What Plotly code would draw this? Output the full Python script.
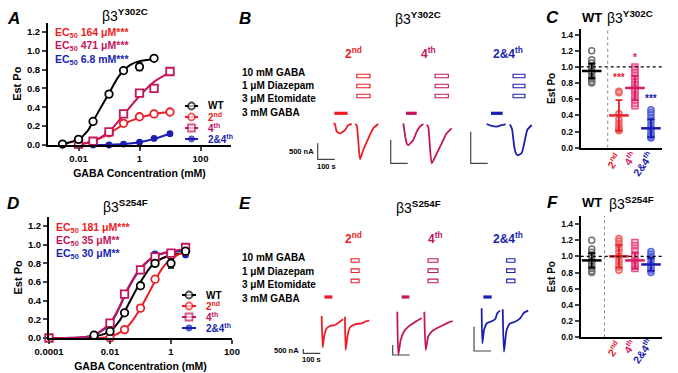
import plotly.graph_objects as go

# ======================= DATA =======================
# Panel A (beta3 Y302C): GABA concentration (mM) vs Est Po
A_wt_conc = [0.003, 0.01, 0.03, 0.1, 0.3, 1, 3]
A_wt_po = [0.01, 0.06, 0.25, 0.54, 0.79, 0.83, 0.92]
A_wt_err = [0, 0, 0, 0, 0, 0.04, 0]
A_2nd_conc = [0.01, 0.03, 0.1, 0.3, 1, 3, 10]
A_2nd_po = [0.01, 0.03, 0.13, 0.23, 0.30, 0.33, 0.35]
A_4th_conc = [0.01, 0.03, 0.1, 0.3, 1, 3, 10]
A_4th_po = [0.01, 0.04, 0.14, 0.33, 0.55, 0.60, 0.78]
A_24_conc = [0.03, 0.1, 0.3, 1, 3, 10]
A_24_po = [0.0, 0.0, 0.01, 0.03, 0.07, 0.12]
# fitted curves
A_wt_fit_conc = [0.003, 0.01, 0.02, 0.03, 0.05, 0.1, 0.2, 0.3, 0.5, 1, 3]
A_wt_fit_po = [0.01, 0.06, 0.15, 0.25, 0.38, 0.55, 0.72, 0.79, 0.85, 0.89, 0.91]
A_2nd_fit_conc = [0.01, 0.03, 0.1, 0.3, 1, 3, 10]
A_2nd_fit_po = [0.005, 0.04, 0.12, 0.22, 0.29, 0.33, 0.35]
A_4th_fit_conc = [0.01, 0.03, 0.1, 0.3, 1, 3, 10]
A_4th_fit_po = [0.005, 0.04, 0.14, 0.32, 0.52, 0.67, 0.77]
A_24_fit_conc = [0.03, 0.1, 0.3, 1, 3, 10]
A_24_fit_po = [0.0, 0.003, 0.01, 0.03, 0.065, 0.12]
A_ec50 = ["164 μM***", "471 μM***", "6.8 mM***"]

# Panel D (beta3 S254F)
D_wt_conc = [0.003, 0.01, 0.03, 0.1, 0.3, 1, 3]
D_wt_po = [0.03, 0.07, 0.27, 0.56, 0.80, 0.80, 0.93]
D_wt_err = [0, 0, 0, 0, 0, 0.05, 0]
D_2nd_conc = [0.01, 0.03, 0.1, 0.3, 1, 3]
D_2nd_po = [0.0, 0.09, 0.32, 0.63, 0.88, 0.93]
D_4th_conc = [0.0001, 0.01, 0.03, 0.1, 0.3, 1, 3]
D_4th_po = [0.0, 0.16, 0.47, 0.73, 0.87, 0.91, 0.97]
D_24_conc = [0.0001, 0.01, 0.03, 0.1, 0.3, 1, 3]
D_24_po = [0.0, 0.15, 0.46, 0.72, 0.90, 0.90, 0.89]
D_wt_fit_conc = [0.001, 0.003, 0.01, 0.02, 0.03, 0.05, 0.1, 0.2, 0.3, 1, 3]
D_wt_fit_po = [0.0, 0.015, 0.07, 0.18, 0.28, 0.42, 0.60, 0.75, 0.81, 0.89, 0.91]
D_2nd_fit_conc = [0.003, 0.01, 0.03, 0.05, 0.1, 0.2, 0.3, 0.5, 1, 3]
D_2nd_fit_po = [0.0, 0.015, 0.09, 0.17, 0.32, 0.50, 0.61, 0.74, 0.85, 0.93]
D_4th_fit_conc = [0.0001, 0.001, 0.003, 0.01, 0.02, 0.03, 0.05, 0.1, 0.3, 1, 3]
D_4th_fit_po = [0.0, 0.005, 0.03, 0.16, 0.33, 0.46, 0.60, 0.75, 0.88, 0.93, 0.95]
D_24_fit_conc = [0.0001, 0.001, 0.003, 0.01, 0.02, 0.03, 0.05, 0.1, 0.3, 1, 3]
D_24_fit_po = [0.0, 0.005, 0.03, 0.15, 0.32, 0.45, 0.59, 0.74, 0.88, 0.92, 0.94]
D_ec50 = ["181 μM***", "35 μM**", "30 μM**"]

# Panels B / E: current traces, time (s) and current (nA), two sweeps per cell
B2_t1 = [92, 101, 112, 131, 161, 180, 200]
B2_i1 = [0, -20, -262, -312, -209, -53, -22]
B2_t2 = [219, 229, 249, 268, 298, 327, 356]
B2_i2 = [-22, -53, -1125, -834, -469, -156, -22]
B4_t1 = [74, 94, 104, 133, 153, 172, 192]
B4_i1 = [0, -429, -466, -358, -180, -73, -15]
B4_t2 = [212, 221, 241, 271, 300, 329, 359]
B4_i2 = [-36, -79, -858, -644, -429, -215, -107]
B24_t1 = [94, 124, 153, 182, 206]
B24_i1 = [0, -31, -42, -16, -5]
B24_t2 = [231, 243, 256, 265, 276, 300, 315, 333, 359]
B24_i2 = [-5, -78, -355, -458, -495, -458, -302, -94, -16]
E2_t1 = [108, 114, 124, 138, 157, 186, 206, 222, 235]
E2_i1 = [0, -3640, -2209, -1430, -1163, -1047, -779, -547, -384]
E2_t2 = [245, 249, 261, 275, 304, 344, 373, 388]
E2_i2 = [-81, -3953, -2209, -1314, -965, -849, -581, -547]
E4_t1 = [27, 33, 47, 66, 92, 121, 151, 171]
E4_i1 = [0, -2165, -1415, -1000, -750, -580, -415, -330]
E4_t2 = [186, 194, 209, 229, 259, 298, 327, 353]
E4_i2 = [0, -1915, -1250, -1000, -830, -665, -550, -465]
E24_t1 = [45, 49, 59, 75, 98, 124, 137, 153]
E24_i1 = [0, -720, -447, -309, -276, -226, -103, -49]
E24_t2 = [169, 176, 192, 212, 241, 271, 294, 319]
E24_i2 = [-21, -893, -447, -309, -276, -206, -91, -49]
# drug application windows (s): 3 mM GABA bar and combined application boxes
gaba_on = [98, 90, 119, 124, 53, 55]
gaba_off = [176, 153, 188, 171, 98, 104]
combo_on = [230, 261, 249, 281, 208, 192]
combo_off = [308, 339, 319, 328, 266, 241]
scale_bottom_nA = [-1125, -858, -622, -4337, -2165, -879]
SCALE_NA = 500
SCALE_S = 100
stim_labels = ["10 mM GABA", "1 μM Diazepam", "3 μM Etomidate", "3 mM GABA"]

# Panels C / F: individual Est Po values, mean and SD
groups = ["WT", "2<sup>nd</sup>", "4<sup>th</sup>", "2&4<sup>th</sup>"]
C_wt = [1.20, 1.09, 1.05, 1.00, 0.95, 0.92, 0.88, 0.85, 0.82, 0.80]
C_2nd = [0.70, 0.68, 0.42, 0.35, 0.30, 0.26, 0.23, 0.21]
C_4th = [1.00, 0.97, 0.93, 0.89, 0.85, 0.81, 0.77, 0.73, 0.69, 0.64, 0.59, 0.55, 0.52]
C_24 = [0.47, 0.44, 0.41, 0.37, 0.33, 0.28, 0.24, 0.20, 0.17, 0.15, 0.13, 0.12]
C_mean = [0.95, 0.40, 0.74, 0.24]
C_sd = [0.09, 0.19, 0.15, 0.11]
C_stars = ["", "***", "*", "***"]
C_star_y = [None, 0.87, 1.12, 0.61]
F_wt = [1.20, 1.09, 1.05, 1.00, 0.95, 0.92, 0.88, 0.85, 0.82, 0.80]
F_2nd = [1.22, 1.19, 1.15, 1.10, 1.05, 1.00, 0.95, 0.91, 0.87, 0.83]
F_4th = [1.17, 1.13, 1.07, 1.00, 0.95, 0.91, 0.88, 0.85]
F_24 = [1.06, 1.03, 1.00, 0.97, 0.93, 0.89, 0.86, 0.83, 0.80]
F_mean = [0.95, 1.00, 0.95, 0.90]
F_sd = [0.09, 0.14, 0.10, 0.08]

# ======================= STYLE / LAYOUT =======================
W, H = 678, 373
FONT = "Liberation Sans, Arial, Helvetica, sans-serif"
RED = "#EE1C25"
MAG = "#C4145C"
BLUE = "#1B1FB0"
SER_COL = ["#000000", RED, MAG, BLUE]
PT_LINE = ["#6E6E6E", "#F26464", "#EE4F8A", "#5566DD"]
PT_FILL = ["rgba(0,0,0,0)", "rgba(242,100,100,0.30)", "rgba(238,79,138,0.25)", "rgba(85,102,221,0.25)"]
MEAN_COL = ["#000000", "#E8202A", "#D81B60", "#1A1AB0"]
TRACE_COL = [RED, MAG, BLUE]


def xdom(a, b):
    return [a / W, b / W]


def ydom(top, bottom):
    return [1 - bottom / H, 1 - top / H]


annotations = []
shapes = []


def ann(text, x, y, size, color="black", xanchor="center", yanchor="middle",
        angle=0, bold=True, italic=False):
    t = text
    if bold:
        t = "<b>" + t + "</b>"
    if italic:
        t = "<i>" + t + "</i>"
    annotations.append(dict(text=t, x=x / W, y=1 - y / H, xref="paper", yref="paper",
                            showarrow=False, xanchor=xanchor, yanchor=yanchor,
                            textangle=angle, font=dict(family=FONT, size=size, color=color)))


fig = go.Figure()
lay = dict(width=W, height=H, margin=dict(l=0, r=0, t=0, b=0, autoexpand=False),
           paper_bgcolor="white", plot_bgcolor="rgba(0,0,0,0)", showlegend=False,
           font=dict(family=FONT, color="black", size=10))

TICKF = dict(family=FONT, size=9.5, color="black", weight="bold")


def yaxis_po(dom, anchor, rng, tv, fsize, tsize, standoff):
    return dict(domain=dom, anchor=anchor, range=rng, tickvals=tv,
                ticktext=["%.1f" % v for v in tv], showline=True, linewidth=2,
                linecolor="black", ticks="outside", ticklen=4, tickwidth=2,
                showgrid=False, zeroline=False,
                tickfont=dict(family=FONT, size=fsize, color="black", weight="bold"),
                title=dict(text="<b>Est Po</b>", font=dict(family=FONT, size=tsize), standoff=standoff))


def xaxis_conc(dom, anchor, rng, tv):
    return dict(domain=dom, anchor=anchor, type="log", range=rng, tickvals=tv,
                ticktext=[("%g" % v) if v >= 0.001 else "0.0001" for v in tv],
                showline=True, linewidth=2, linecolor="black", ticks="outside",
                ticklen=4, tickwidth=2, showgrid=False, zeroline=False, tickfont=TICKF,
                title=dict(text="<b>GABA Concentration (mM)</b>",
                           font=dict(family=FONT, size=10.5), standoff=6))


po_ticks = [0, 0.2, 0.4, 0.6, 0.8, 1.0, 1.2]
lay["xaxis"] = xaxis_conc(xdom(48, 231), "y", [-3, 3], [0.01, 1, 100])
lay["yaxis"] = yaxis_po(ydom(22.5, 145), "x", [0, 1.3], po_ticks, 9.5, 11, 3)
lay["xaxis2"] = xaxis_conc(xdom(49, 232), "y2", [-4, 2], [0.0001, 0.01, 1, 100])
lay["yaxis2"] = yaxis_po(ydom(216.7, 338), "x2", [0, 1.3], po_ticks, 9.5, 11, 3)

# scatter-plot panels C and F
cat_pos = [1.0, 2.7, 3.7, 4.7]
cat_rng = [0.3125, 5.39]
dot_ticks = [0, 0.2, 0.4, 0.6, 0.8, 1.0, 1.2, 1.4]
for n, (top, bot, ymax) in zip([3, 4], [(29, 147.7, 1.47), (215.9, 337.3, 1.5)]):
    lay["xaxis%d" % n] = dict(domain=xdom(580.7, 662), anchor="y%d" % n, range=cat_rng,
                              showline=True, linewidth=2, linecolor="black",
                              showticklabels=False, ticks="", showgrid=False, zeroline=False)
    lay["yaxis%d" % n] = yaxis_po(ydom(top, bot), "x%d" % n, [0, ymax], dot_ticks, 8.5, 10, 4)

# trace-cell axes (B: 5-7, E: 8-10): time in s, current in nA
PX_PER_S = 0.17
cells = [  # (t0 px, baseline px, px per nA, x domain px, y domain px)
    (317.7, 123.3, 0.032, (300, 390), (100, 172)),
    (390.7, 123.3, 0.0466, (385, 460), (100, 172)),
    (470.7, 124.0, 0.0632, (465, 540), (100, 172)),
    (303.3, 316.0, 0.0086, (295, 380), (300, 365)),
    (392.7, 311.7, 0.020, (385, 460), (300, 365)),
    (474.0, 308.3, 0.0486, (465, 540), (300, 365)),
]
for i, (t0, base, k, (xa, xb), (ya, yb)) in enumerate(cells):
    n = 5 + i
    lay["xaxis%d" % n] = dict(domain=xdom(xa, xb), anchor="y%d" % n, visible=False,
                              range=[(xa - t0) / PX_PER_S, (xb - t0) / PX_PER_S], fixedrange=True)
    lay["yaxis%d" % n] = dict(domain=ydom(ya, yb), anchor="x%d" % n, visible=False,
                              range=[-(yb - base) / k, (base - ya) / k], fixedrange=True)

# overlay axis for legend glyphs (pixel units)
lay["xaxis11"] = dict(domain=[0, 1], anchor="y11", range=[0, W], visible=False)
lay["yaxis11"] = dict(domain=[0, 1], anchor="x11", range=[H, 0], visible=False)

# ======================= TRACES =======================
def curve(x, y, color, xa, ya, width=2):
    fig.add_trace(go.Scatter(x=x, y=y, mode="lines", xaxis=xa, yaxis=ya, cliponaxis=False,
                             line=dict(color=color, width=width, shape="spline", smoothing=0.8),
                             hoverinfo="skip"))


def pts(x, y, color, symbol, xa, ya, err=None, size=7.5, filled=False):
    fig.add_trace(go.Scatter(
        x=x, y=y, mode="markers", xaxis=xa, yaxis=ya, cliponaxis=False,
        marker=dict(symbol=symbol, size=size, color=color if filled else "white",
                    line=dict(color=color, width=1.8)),
        error_y=(dict(type="data", array=err, visible=True, color=color, thickness=1.5, width=3)
                 if err else None)))


# Panel A
curve(A_wt_fit_conc, A_wt_fit_po, "black", "x", "y")
curve(A_2nd_fit_conc, A_2nd_fit_po, RED, "x", "y")
curve(A_4th_fit_conc, A_4th_fit_po, MAG, "x", "y")
curve(A_24_fit_conc, A_24_fit_po, BLUE, "x", "y")
pts(A_24_conc, A_24_po, BLUE, "circle", "x", "y", size=5, filled=True)
pts(A_2nd_conc, A_2nd_po, RED, "circle", "x", "y")
pts(A_4th_conc, A_4th_po, MAG, "square", "x", "y")
pts(A_wt_conc, A_wt_po, "black", "circle", "x", "y", err=A_wt_err)

# Panel D
curve(D_wt_fit_conc, D_wt_fit_po, "black", "x2", "y2")
curve(D_2nd_fit_conc, D_2nd_fit_po, RED, "x2", "y2")
curve(D_24_fit_conc, D_24_fit_po, BLUE, "x2", "y2")
curve(D_4th_fit_conc, D_4th_fit_po, MAG, "x2", "y2")
pts(D_24_conc, D_24_po, BLUE, "circle", "x2", "y2", size=5, filled=True)
pts(D_2nd_conc, D_2nd_po, RED, "circle", "x2", "y2")
pts(D_4th_conc, D_4th_po, MAG, "square", "x2", "y2")
pts(D_wt_conc, D_wt_po, "black", "circle", "x2", "y2", err=D_wt_err)

# legends for A and D (glyph + coloured label)
leg_names = ["WT", "2<sup>nd</sup>", "4<sup>th</sup>", "2&4<sup>th</sup>"]
leg_sym = ["circle", "circle", "square", "circle"]
for (x0, xm, x1, xt, rows) in [(185, 191.5, 198, 206, [106, 117, 128, 139]),
                               (182, 189, 196, 203.5, [295, 306, 317, 328])]:
    for j in range(4):
        c = SER_COL[j]
        filled = j == 3
        fig.add_trace(go.Scatter(
            x=[x0, xm, x1], y=[rows[j]] * 3, xaxis="x11", yaxis="y11", mode="lines+markers",
            line=dict(color=c, width=2),
            marker=dict(symbol=leg_sym[j], size=[0, 5 if filled else 7, 0],
                        color=c if filled else "white", line=dict(color=c, width=1.8))))
        ann(leg_names[j], xt, rows[j], 10, color=c, xanchor="left")

# Panels B / E: current traces, scale bars, application marks
all_t1 = [B2_t1, B4_t1, B24_t1, E2_t1, E4_t1, E24_t1]
all_i1 = [B2_i1, B4_i1, B24_i1, E2_i1, E4_i1, E24_i1]
all_t2 = [B2_t2, B4_t2, B24_t2, E2_t2, E4_t2, E24_t2]
all_i2 = [B2_i2, B4_i2, B24_i2, E2_i2, E4_i2, E24_i2]
for i in range(6):
    n = 5 + i
    col = TRACE_COL[i % 3]
    for tt, ii in [(all_t1[i], all_i1[i]), (all_t2[i], all_i2[i])]:
        fig.add_trace(go.Scatter(x=tt, y=ii, xaxis="x%d" % n, yaxis="y%d" % n, mode="lines",
                                 cliponaxis=False,
                                 line=dict(color=col, width=1.8, shape="spline", smoothing=0.5)))
    sb = scale_bottom_nA[i]
    fig.add_trace(go.Scatter(x=[0, 0, SCALE_S], y=[sb + SCALE_NA, sb, sb], xaxis="x%d" % n,
                             yaxis="y%d" % n, mode="lines", cliponaxis=False,
                             line=dict(color="#444444", width=1.2)))
    top_row = i < 3
    rect_rows = [76, 86, 96] if top_row else [260.5, 270.7, 280.9]
    bar_row = 113.3 if top_row else 297
    for r in rect_rows:
        shapes.append(dict(type="rect", xref="x%d" % n, yref="paper",
                           x0=combo_on[i], x1=combo_off[i],
                           y0=1 - (r + 1.8) / H, y1=1 - (r - 1.8) / H,
                           line=dict(color=col, width=1.1), fillcolor="rgba(0,0,0,0)"))
    shapes.append(dict(type="rect", xref="x%d" % n, yref="paper", x0=gaba_on[i], x1=gaba_off[i],
                       y0=1 - (bar_row + 1.6) / H, y1=1 - (bar_row - 1.6) / H,
                       line=dict(width=0), fillcolor=col))

# Panels C / F: dot plots with mean ± SD
for n, sets, means, sds in [(3, [C_wt, C_2nd, C_4th, C_24], C_mean, C_sd),
                            (4, [F_wt, F_2nd, F_4th, F_24], F_mean, F_sd)]:
    for j in range(4):
        fig.add_trace(go.Scatter(
            x=[cat_pos[j]] * len(sets[j]), y=sets[j], xaxis="x%d" % n, yaxis="y%d" % n,
            mode="markers", cliponaxis=False,
            marker=dict(symbol="square" if j == 2 else "circle", size=6, color=PT_FILL[j],
                        line=dict(color=PT_LINE[j], width=1.5))))
    for j in range(4):
        fig.add_trace(go.Scatter(
            x=[cat_pos[j]], y=[means[j]], xaxis="x%d" % n, yaxis="y%d" % n, mode="markers",
            cliponaxis=False,
            marker=dict(symbol="line-ew", size=14, line=dict(color=MEAN_COL[j], width=2.5)),
            error_y=dict(type="data", array=[sds[j]], visible=True, color=MEAN_COL[j],
                         thickness=1.8, width=3.5)))

for n, divider, ymax in [(3, 2.0, 1.47), (4, 1.8, 1.5)]:
    shapes.append(dict(type="line", xref="x%d" % n, yref="y%d" % n, x0=cat_rng[0], x1=cat_rng[1],
                       y0=1.0, y1=1.0, line=dict(color="black", width=1.2, dash="dot")))
    shapes.append(dict(type="line", xref="x%d" % n, yref="y%d" % n, x0=divider, x1=divider,
                       y0=0, y1=ymax, line=dict(color="#888888", width=1, dash="dot")))

for j in range(1, 4):
    annotations.append(dict(text="<b>%s</b>" % C_stars[j], x=cat_pos[j], y=C_star_y[j],
                            xref="x3", yref="y3", showarrow=False,
                            font=dict(family=FONT, size=10, color=MEAN_COL[j])))

# ======================= TEXT =======================
for letter, x, y in [("A", 13, 18), ("B", 245, 18), ("C", 552, 17),
                     ("D", 13, 203), ("E", 245, 203), ("F", 552, 202)]:
    ann(letter, x, y, 17, italic=True)

ann("β3<sup><b>Y302C</b></sup>", 125, 15, 14, bold=False)
ann("β3<sup><b>S254F</b></sup>", 125, 206, 14, bold=False)
ann("β3<sup><b>Y302C</b></sup>", 418, 18, 14, bold=False)
ann("β3<sup><b>S254F</b></sup>", 418, 207, 14, bold=False)
ann("WT", 592, 17, 13)
ann("β3<sup><b>Y302C</b></sup>", 630, 17, 14, bold=False)
ann("WT", 592, 202, 13)
ann("β3<sup><b>S254F</b></sup>", 631, 203, 14, bold=False)

for j, lab in enumerate(A_ec50):
    ann("EC<sub>50</sub> " + lab, 53, [33, 46.5, 60][j], 10.5, color=SER_COL[j + 1], xanchor="left")
for j, lab in enumerate(D_ec50):
    ann("EC<sub>50</sub> " + lab, 54, [227.5, 240.5, 253.5][j], 10.5, color=SER_COL[j + 1], xanchor="left")

for rows in [[72.7, 86, 99, 112.5], [257.7, 271, 284, 298.3]]:
    for lab, y in zip(stim_labels, rows):
        ann(lab, 240, y, 10, xanchor="left")

for y in [53, 238]:
    ann(groups[1], 353, y, 12, color=RED)
    ann(groups[3], 508, y, 12, color=BLUE)
ann(groups[2], 428, 53, 12, color=MAG)
ann(groups[2], 435, 238, 12, color=MAG)

ann("500 nA", 315.5, 151.5, 7.5, xanchor="right")
ann("100 s", 326, 166.7, 7.5)
ann("500 nA", 301, 350.5, 7.5, xanchor="right")
ann("100 s", 311, 359.5, 7.5)

for j, (x, yc, yf) in enumerate([(613.3, 160.7, 348.3), (629, 158.3, 346.7), (642.3, 163.3, 350.7)]):
    ann(groups[j + 1], x, yc, 10.5, color=MEAN_COL[j + 1], angle=-55)
    ann(groups[j + 1], x, yf, 10.5, color=MEAN_COL[j + 1], angle=-55)

lay["annotations"] = annotations
lay["shapes"] = shapes
fig.update_layout(**lay)
fig.write_html("out.html", config={"displayModeBar": False},
               post_script="document.body.style.margin='0';document.body.style.overflow='hidden';")
